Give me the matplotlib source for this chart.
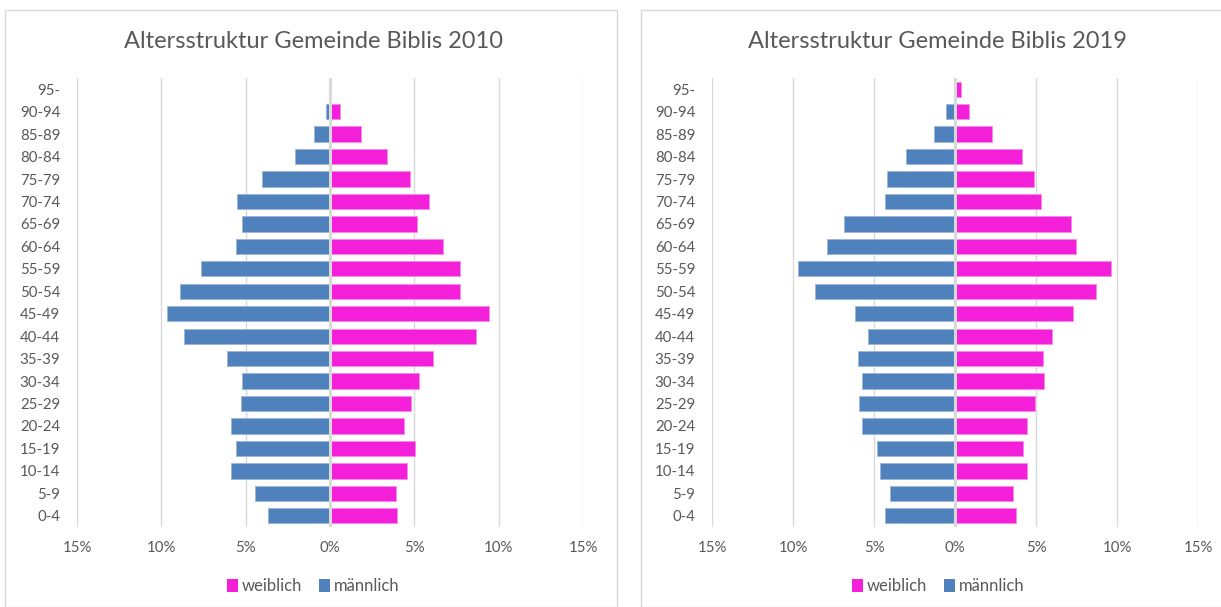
import matplotlib.pyplot as plt
import numpy as np
from matplotlib.patches import Rectangle, Patch

plt.rcParams['font.family'] = ['Lato', 'DejaVu Sans']

# age groups, bottom to top
groups = ['0-4', '5-9', '10-14', '15-19', '20-24', '25-29', '30-34', '35-39', '40-44',
          '45-49', '50-54', '55-59', '60-64', '65-69', '70-74', '75-79', '80-84', '85-89',
          '90-94', '95-']

# shares in percent, 2010
male_2010 = [3.70, 4.43, 5.87, 5.57, 5.87, 5.28, 5.21, 6.08, 8.63,
             9.67, 8.89, 7.67, 5.59, 5.24, 5.50, 4.06, 2.05, 0.94, 0.24, 0.0]
female_2010 = [3.99, 3.94, 4.55, 5.05, 4.41, 4.79, 5.28, 6.13, 8.63,
               9.41, 7.69, 7.69, 6.72, 5.17, 5.85, 4.72, 3.40, 1.84, 0.57, 0.0]

# shares in percent, 2019
male_2019 = [4.30, 4.04, 4.65, 4.79, 5.72, 5.93, 5.77, 6.00, 5.35,
             6.19, 8.62, 9.70, 7.92, 6.87, 4.30, 4.18, 3.01, 1.29, 0.54, 0.0]
female_2019 = [3.79, 3.55, 4.42, 4.18, 4.46, 4.91, 5.51, 5.44, 5.98,
               7.31, 8.71, 9.63, 7.45, 7.15, 5.33, 4.88, 4.14, 2.29, 0.89, 0.37]

xticks = [-15, -10, -5, 0, 5, 10, 15]
xticklabels = ['15%', '10%', '5%', '0%', '5%', '10%', '15%']

blue = '#4F81BD'
pink = '#F41FD8'
grid = '#D9D9D9'
txt = '#595959'

W, H = 1221, 607
fig = plt.figure(figsize=(W / 100, H / 100), dpi=100)

# chart area frames
fig.patches.append(Rectangle((5 / W, 0), 612 / W, (H - 10) / H, transform=fig.transFigure,
                             fill=False, edgecolor=grid, linewidth=1))
fig.patches.append(Rectangle((641 / W, 0), 590 / W, (H - 10) / H, transform=fig.transFigure,
                             fill=False, edgecolor=grid, linewidth=1))


def pyramid(x0, x1, male, female, title, cx):
    ax = fig.add_axes([x0 / W, (H - 527) / H, (x1 - x0) / W, 449 / H])
    y = np.arange(len(groups))
    for v in xticks:
        if v != 0:
            ax.axvline(v, color=grid, linewidth=1, zorder=0)
    ax.barh(y, -np.array(male), height=0.68, color=blue, edgecolor='#9DB6D9',
            linewidth=0.7, zorder=2)
    ax.barh(y, female, height=0.68, color=pink, edgecolor='#F88AE9',
            linewidth=0.7, zorder=2)
    ax.axvline(0, color=grid, linewidth=2.2, zorder=3)
    ax.set_xlim(-15, 15)
    ax.set_ylim(-0.5, len(groups) - 0.5)
    ax.set_yticks(y)
    ax.set_yticklabels(groups)
    ax.set_xticks(xticks)
    ax.set_xticklabels(xticklabels)
    for s in ax.spines.values():
        s.set_visible(False)
    ax.tick_params(axis='y', length=0, pad=12, labelsize=10.8, labelcolor=txt)
    ax.tick_params(axis='x', length=0, pad=10, labelsize=10.8, labelcolor=txt)
    fig.text(cx / W, 1 - 42 / H, title, ha='center', va='center', fontsize=17, color=txt)
    handles = [Patch(facecolor=pink, edgecolor='none'), Patch(facecolor=blue, edgecolor='none')]
    fig.legend(handles, ['weiblich', 'männlich'], loc='center',
               bbox_to_anchor=(cx / W, 1 - 586 / H), ncol=2, frameon=False,
               handlelength=0.65, handleheight=0.8, handletextpad=0.25,
               columnspacing=1.0, fontsize=12, labelcolor=txt)
    return ax


pyramid(77, 583, male_2010, female_2010, 'Altersstruktur Gemeinde Biblis 2010', 313)
pyramid(712, 1198, male_2019, female_2019, 'Altersstruktur Gemeinde Biblis 2019', 938)

plt.savefig('out.png', dpi=100)
